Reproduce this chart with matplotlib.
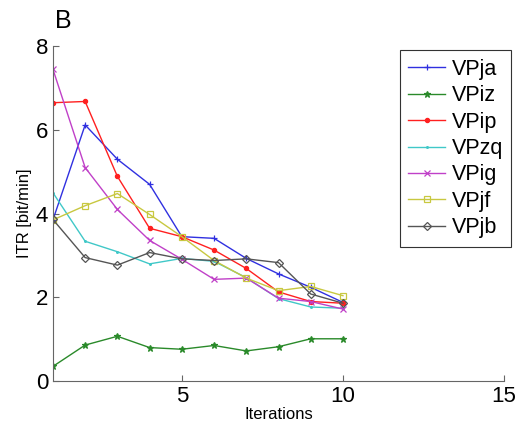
import numpy as np
import matplotlib
matplotlib.use('Agg')
import matplotlib.pyplot as plt

plt.rcParams['font.family'] = ['Liberation Sans', 'DejaVu Sans']

# Данные
iterations = np.arange(1, 11)
subjects = ['VPja', 'VPiz', 'VPip', 'VPzq', 'VPig', 'VPjf', 'VPjb']
vp_ja = [3.85, 6.12, 5.30, 4.70, 3.45, 3.41, 2.93, 2.56, 2.24, 1.88]
vp_iz = [0.35, 0.86, 1.07, 0.80, 0.76, 0.85, 0.72, 0.82, 1.01, 1.01]
vp_ip = [6.65, 6.68, 4.89, 3.65, 3.45, 3.13, 2.69, 2.13, 1.90, 1.86]
vp_zq = [4.50, 3.34, 3.09, 2.80, 2.93, 2.86, 2.47, 1.97, 1.77, 1.74]
vp_ig = [7.45, 5.10, 4.10, 3.36, 2.91, 2.43, 2.46, 1.98, 1.90, 1.72]
vp_jf = [3.85, 4.19, 4.48, 3.98, 3.45, 2.88, 2.46, 2.16, 2.26, 2.04]
vp_jb = [3.86, 2.95, 2.77, 3.07, 2.92, 2.88, 2.92, 2.83, 2.08, 1.86]
series = [vp_ja, vp_iz, vp_ip, vp_zq, vp_ig, vp_jf, vp_jb]

colors = ['#3030e0', '#2a8a2a', '#ff2020', '#40c8c8', '#c040c8', '#c8c840', '#555555']
markers = ['+', '*', 'o', '.', 'x', 's', 'D']
msizes = [5, 5, 3, 2.5, 4, 4, 4]
fills = ['full', 'full', 'full', 'full', 'full', 'none', 'none']

fig = plt.figure(figsize=(5.24, 4.36), dpi=100)
ax = fig.add_axes([0.101, 0.126, 0.861, 0.768])

for vals, name, c, m, ms, fs in zip(series, subjects, colors, markers, msizes, fills):
    ax.plot(iterations, vals, color=c, marker=m, markersize=ms, fillstyle=fs,
            linewidth=1.0, markeredgewidth=0.9, label=name)

ax.set_xlim(1, 15)
ax.set_ylim(0, 8)
ax.set_xticks([5, 10, 15])
ax.set_yticks([0, 2, 4, 6, 8])
ax.tick_params(labelsize=16, direction='in', length=4, color='#666666')
for side in ['top', 'right']:
    ax.spines[side].set_visible(False)
for side in ['left', 'bottom']:
    ax.spines[side].set_color('#666666')

ax.set_xlabel('Iterations', fontsize=12, labelpad=0)
ax.set_ylabel('ITR [bit/min]', fontsize=12, labelpad=3)
fig.text(0.105, 0.935, 'B', fontsize=18)

leg = ax.legend(loc='upper left', bbox_to_anchor=(0.745, 1.02), fontsize=15.5,
                handlelength=1.7, handletextpad=0.3, borderpad=0.4,
                labelspacing=0.25, fancybox=False, edgecolor='#333333',
                framealpha=1)
leg.get_frame().set_linewidth(0.8)

fig.savefig('out.png', dpi=100)
